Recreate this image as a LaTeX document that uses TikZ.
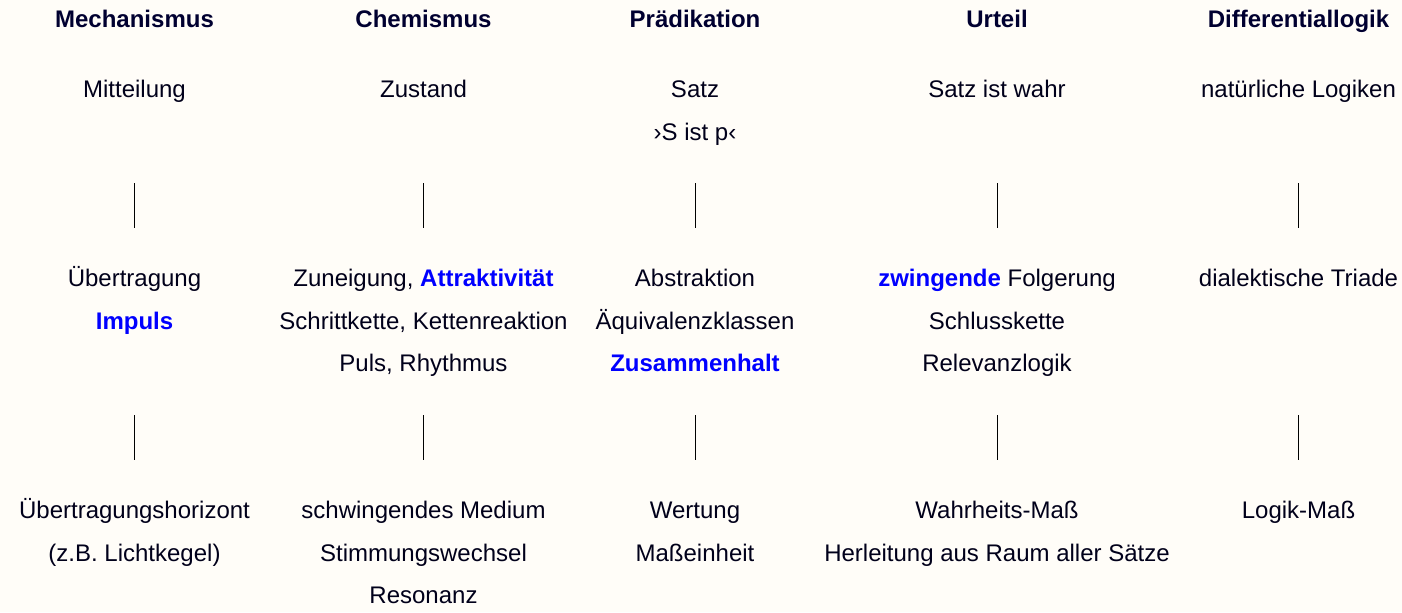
\documentclass[tikz,border=0pt]{standalone}
\usepackage{fontspec}
\setmainfont{Liberation Sans}
\usetikzlibrary{positioning}
\definecolor{grund}{HTML}{FFFDF8}
\definecolor{kopf}{HTML}{000030}
\definecolor{schrift}{HTML}{00001A}
\definecolor{hervor}{HTML}{0000FF}
\tikzstyle{kopfbox}=[font=\fontsize{12}{14}\selectfont\bfseries, text=kopf, inner sep=0pt, text height=14.25pt, text depth=6.75pt]
\tikzstyle{zeile}=[font=\fontsize{12}{14}\selectfont, text=schrift, inner sep=0pt, text height=14.25pt, text depth=6.75pt]
\tikzstyle{line}=[-, line width=0.5pt, black]
\newcommand\blau[1]{\textcolor{hervor}{\textbf{#1}}}

\begin{document}
\begin{tikzpicture}[node distance=0pt]

    \fill[grund] (0,0) rectangle (701pt,-306pt);
    \useasboundingbox (0,0) rectangle (701pt,-306pt);

%spaltenkoepfe
    \node (mech) [kopfbox] at (67.25pt,-10pt) {Mechanismus};
    \node (chem) [kopfbox] at (211.75pt,-10pt) {Chemismus};
    \node (praed) [kopfbox] at (347.5pt,-10pt) {Prädikation};
    \node (urteil) [kopfbox] at (498.5pt,-10pt) {Urteil};
    \node (diff) [kopfbox] at (649.25pt,-10pt) {Differentiallogik};

%erste ebene
    \node (mech1) [zeile, below=13.5pt of mech] {Mitteilung};
    \node (chem1) [zeile, below=13.5pt of chem] {Zustand};
    \node (praed1) [zeile, below=13.5pt of praed] {Satz};
    \node (praed1b) [zeile, below=of praed1] {›S ist p‹};
    \node (urteil1) [zeile, below=13.5pt of urteil] {Satz ist wahr};
    \node (diff1) [zeile, below=13.5pt of diff] {natürliche Logiken};

%zweite ebene
    \node (mech2) [zeile, below=108pt of mech] {Übertragung};
    \node (mech2b) [zeile, below=of mech2] {\blau{Impuls}};
    \node (chem2) [zeile, below=108pt of chem] {Zuneigung, \blau{Attraktivität}};
    \node (chem2b) [zeile, below=of chem2] {Schrittkette, Kettenreaktion};
    \node (chem2c) [zeile, below=of chem2b] {Puls, Rhythmus};
    \node (praed2) [zeile, below=108pt of praed] {Abstraktion};
    \node (praed2b) [zeile, below=of praed2] {Äquivalenzklassen};
    \node (praed2c) [zeile, below=of praed2b] {\blau{Zusammenhalt}};
    \node (urteil2) [zeile, below=108pt of urteil] {\blau{zwingende} Folgerung};
    \node (urteil2b) [zeile, below=of urteil2] {Schlusskette};
    \node (urteil2c) [zeile, below=of urteil2b] {Relevanzlogik};
    \node (diff2) [zeile, below=108pt of diff] {dialektische Triade};

%dritte ebene
    \node (mech3) [zeile, below=224pt of mech] {Übertragungshorizont};
    \node (mech3b) [zeile, below=of mech3] {(z.B. Lichtkegel)};
    \node (chem3) [zeile, below=224pt of chem] {schwingendes Medium};
    \node (chem3b) [zeile, below=of chem3] {Stimmungswechsel};
    \node (chem3c) [zeile, below=of chem3b] {Resonanz};
    \node (praed3) [zeile, below=224pt of praed] {Wertung};
    \node (praed3b) [zeile, below=of praed3] {Maßeinheit};
    \node (urteil3) [zeile, below=224pt of urteil] {Wahrheits-Maß};
    \node (urteil3b) [zeile, below=of urteil3] {Herleitung aus Raum aller Sätze};
    \node (diff3) [zeile, below=224pt of diff] {Logik-Maß};

%striche zwischen den ebenen
    \coordinate (o1) at (0,-91.5pt);
    \coordinate (u1) at (0,-114pt);
    \coordinate (o2) at (0,-207.5pt);
    \coordinate (u2) at (0,-230pt);
    \foreach \k in {mech,chem,praed,urteil,diff} {
        \draw[line] (\k |- o1) -- (\k |- u1);
        \draw[line] (\k |- o2) -- (\k |- u2);
    }

\end{tikzpicture}
\end{document}
